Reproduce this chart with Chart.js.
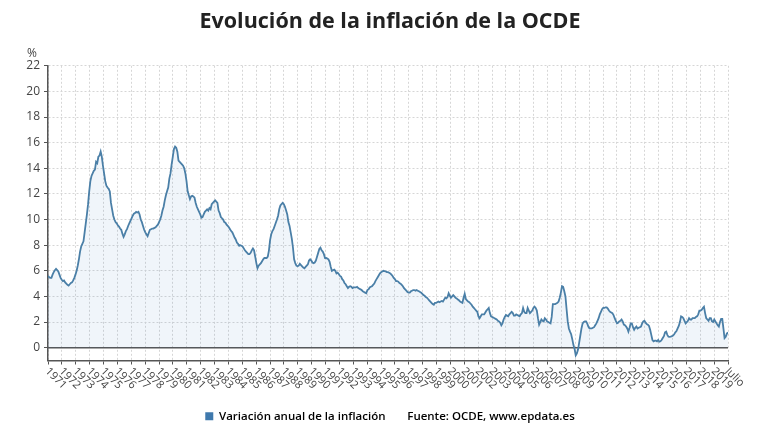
<!DOCTYPE html>
<html><head><meta charset="utf-8">
<script src="https://cdn.jsdelivr.net/npm/chart.js@4.4.1/dist/chart.umd.min.js"></script>
<style>html,body{margin:0;padding:0;background:#fff;}#wrap{width:780px;height:440px;}</style>
</head><body><div id="wrap"><canvas id="c" width="780" height="440"></canvas></div>
<script>
const chartTitle = 'Evolución de la inflación de la OCDE';
const seriesName = 'Variación anual de la inflación';
const sourceText = 'Fuente: OCDE, www.epdata.es';
const unitLabel = '%';
const startYear = 1971;
const tickLabels = ['1971','1972','1973','1974','1975','1976','1977','1978','1979','1980',
  '1981','1982','1983','1984','1985','1986','1987','1988','1989','1990',
  '1991','1992','1993','1994','1995','1996','1997','1998','1999','2000',
  '2001','2002','2003','2004','2005','2006','2007','2008','2009','2010',
  '2011','2012','2013','2014','2015','2016','2017','2018','2019','Julio'];
const yTickValues = [0,2,4,6,8,10,12,14,16,18,20,22];
// Monthly annual inflation (%), Jan 1971 - Jul 2020
const values = [
  5.6,5.5,5.45,5.45,5.7,5.9,6.05,6.15,6.05,5.95,5.7,5.45,          // 1971
  5.3,5.2,5.25,5.1,5.0,4.9,4.85,4.95,5.05,5.1,5.25,5.45,           // 1972
  5.7,6.0,6.4,6.9,7.5,7.9,8.1,8.3,9.0,9.7,10.4,11.2,               // 1973
  12.2,13.0,13.4,13.6,13.8,13.9,14.5,14.4,14.9,15.0,15.3,14.9,     // 1974
  14.2,13.6,13.0,12.65,12.5,12.4,12.2,11.3,10.8,10.3,10.0,9.8,     // 1975
  9.7,9.55,9.45,9.3,9.2,8.9,8.65,8.85,9.1,9.25,9.5,9.7,            // 1976
  9.9,10.1,10.3,10.45,10.5,10.6,10.55,10.6,10.4,10.0,9.8,9.5,      // 1977
  9.2,9.0,8.85,8.7,8.95,9.2,9.25,9.3,9.3,9.35,9.4,9.5,             // 1978
  9.6,9.8,10.0,10.3,10.7,11.0,11.5,11.9,12.2,12.5,13.2,13.6,       // 1979
  14.3,14.9,15.5,15.7,15.6,15.3,14.6,14.5,14.4,14.3,14.2,14.0,     // 1980
  13.6,13.0,12.2,11.9,11.6,11.8,11.85,11.8,11.7,11.3,11.0,10.8,    // 1981
  10.6,10.4,10.15,10.2,10.4,10.6,10.7,10.8,10.7,10.9,10.8,11.2,    // 1982
  11.3,11.4,11.5,11.4,11.3,10.7,10.5,10.2,10.1,10.0,9.8,9.75,      // 1983
  9.6,9.5,9.4,9.25,9.1,9.0,8.8,8.6,8.45,8.2,8.1,7.95,              // 1984
  8.0,7.95,7.9,7.75,7.6,7.5,7.4,7.3,7.3,7.4,7.6,7.75,              // 1985
  7.6,7.1,6.6,6.2,6.4,6.5,6.6,6.75,6.9,7.0,7.0,7.0,                // 1986
  7.1,7.6,8.4,8.85,9.1,9.25,9.5,9.75,10.0,10.3,10.8,11.1,          // 1987
  11.2,11.3,11.2,11.0,10.7,10.4,9.8,9.5,9.0,8.5,7.8,6.9,           // 1988
  6.6,6.4,6.35,6.4,6.55,6.45,6.35,6.25,6.2,6.3,6.4,6.5,            // 1989
  6.8,6.9,6.8,6.65,6.6,6.65,6.8,7.1,7.4,7.7,7.8,7.6,               // 1990
  7.5,7.3,7.0,7.0,6.95,6.9,6.7,6.3,6.0,6.05,6.1,6.0,               // 1991
  5.8,5.85,5.75,5.6,5.55,5.35,5.25,5.05,4.95,4.8,4.65,4.75,        // 1992
  4.8,4.75,4.65,4.7,4.7,4.7,4.75,4.65,4.6,4.55,4.5,4.4,            // 1993
  4.35,4.3,4.25,4.5,4.55,4.7,4.75,4.8,4.9,5.0,5.2,5.35,            // 1994
  5.5,5.65,5.8,5.9,5.95,6.0,5.97,5.95,5.9,5.9,5.85,5.8,            // 1995
  5.7,5.6,5.45,5.35,5.2,5.2,5.15,5.05,5.0,4.9,4.8,4.65,            // 1996
  4.55,4.45,4.35,4.3,4.3,4.4,4.45,4.5,4.5,4.45,4.5,4.45,           // 1997
  4.4,4.35,4.3,4.2,4.1,4.05,3.95,3.9,3.8,3.7,3.6,3.5,              // 1998
  3.4,3.35,3.5,3.5,3.55,3.6,3.55,3.6,3.65,3.6,3.75,3.9,            // 1999
  3.85,3.95,4.25,4.05,3.9,4.0,4.1,4.0,3.9,3.85,3.75,3.7,           // 2000
  3.6,3.55,3.5,3.9,4.2,3.8,3.7,3.6,3.55,3.45,3.35,3.2,             // 2001
  3.1,3.0,2.9,2.8,2.45,2.3,2.45,2.6,2.6,2.6,2.75,2.9,              // 2002
  3.0,3.1,2.7,2.45,2.4,2.35,2.3,2.25,2.2,2.1,2.05,1.95,            // 2003
  1.75,1.9,2.2,2.4,2.55,2.5,2.45,2.6,2.7,2.8,2.7,2.5,              // 2004
  2.5,2.6,2.55,2.5,2.45,2.6,2.7,3.1,2.8,2.7,2.7,3.1,               // 2005
  2.9,2.7,2.8,2.9,3.1,3.2,3.1,2.9,2.3,1.8,2.0,2.2,                 // 2006
  2.1,2.05,2.3,2.2,2.05,2.0,1.95,1.9,2.4,3.4,3.4,3.4,              // 2007
  3.45,3.5,3.6,3.9,4.3,4.8,4.75,4.4,4.0,3.0,2.05,1.5,              // 2008
  1.25,1.05,0.65,0.2,-0.1,-0.6,-0.45,-0.15,0.4,0.95,1.5,1.9,       // 2009
  2.0,2.05,2.05,1.9,1.65,1.5,1.5,1.5,1.55,1.6,1.75,1.9,            // 2010
  2.1,2.3,2.6,2.8,3.0,3.1,3.1,3.15,3.15,3.05,2.9,2.8,              // 2011
  2.75,2.7,2.55,2.3,2.1,1.9,1.95,2.05,2.1,2.2,2.05,1.8,            // 2012
  1.75,1.65,1.5,1.25,1.55,1.9,1.9,1.6,1.4,1.55,1.65,1.5,           // 2013
  1.55,1.6,1.65,1.9,2.05,2.1,1.95,1.85,1.8,1.7,1.4,1.0,            // 2014
  0.6,0.5,0.55,0.55,0.5,0.6,0.47,0.5,0.6,0.75,0.9,1.2,             // 2015
  1.25,1.0,0.86,0.85,0.86,0.9,0.95,1.05,1.2,1.3,1.5,1.7,           // 2016
  2.0,2.45,2.4,2.3,2.1,1.9,2.0,2.1,2.3,2.2,2.2,2.3,                // 2017
  2.3,2.3,2.4,2.45,2.6,2.9,2.9,2.95,3.1,3.2,2.7,2.3,               // 2018
  2.2,2.1,2.3,2.3,2.05,2.0,2.2,2.05,1.9,1.75,1.65,2.0,             // 2019
  2.25,2.25,1.5,0.75,0.85,1.1,1.2                                  // 2020 (Ene-Jul)
];

const months = values.map((_, i) => (startYear + Math.floor(i / 12)) + '-' + String(i % 12 + 1).padStart(2, '0'));
const points = values.map((v, i) => ({ x: i, y: v, month: months[i] }));
const lastIndex = values.length - 1;

const FONT = '"Open Sans", "Liberation Sans", sans-serif';
const lineColor = '#4a7fa7';
const legendColor = '#3f79ad';

const extras = {
  id: 'extras',
  beforeDatasetsDraw(chart) {
    const { ctx, chartArea } = chart;
    const ys = chart.scales.y;
    const y0 = ys.getPixelForValue(0);
    ctx.save();
    ctx.strokeStyle = '#555';
    ctx.lineWidth = 1.5;
    ctx.beginPath();
    ctx.moveTo(chartArea.left, y0);
    ctx.lineTo(chartArea.right, y0);
    ctx.stroke();
    ctx.restore();
  },
  afterDraw(chart) {
    const { ctx, chartArea } = chart;
    const xs = chart.scales.x;
    ctx.save();
    ctx.fillStyle = '#444';
    ctx.font = '11px ' + FONT;
    ctx.textAlign = 'left';
    ctx.textBaseline = 'middle';
    xs.ticks.forEach((t, k) => {
      const px = xs.getPixelForValue(t.value);
      ctx.save();
      ctx.translate(px - 1, chartArea.bottom + 9);
      ctx.rotate(Math.PI / 4);
      ctx.fillText(tickLabels[k], 0, 0);
      ctx.restore();
    });
    ctx.font = '12px ' + FONT;
    ctx.textAlign = 'center';
    ctx.fillStyle = '#444';
    ctx.fillText(unitLabel, chartArea.left - 16, chartArea.top - 12);
    ctx.restore();
  }
};

new Chart(document.getElementById('c').getContext('2d'), {
  type: 'line',
  data: {
    datasets: [{
      label: seriesName,
      data: points,
      borderColor: lineColor,
      backgroundColor: 'rgba(90,140,200,0.09)',
      fill: 'origin',
      borderWidth: 1.8,
      pointRadius: 0,
      tension: 0
    }]
  },
  options: {
    responsive: false,
    animation: false,
    devicePixelRatio: 1,
    layout: { padding: { left: 0, right: 0, top: 0, bottom: 8 } },
    plugins: {
      title: {
        display: true, text: chartTitle, color: '#222',
        font: { family: FONT, size: 21.5, weight: 'bold' },
        padding: { top: 9, bottom: 31 }
      },
      legend: {
        position: 'bottom',
        labels: {
          boxWidth: 8, boxHeight: 8, padding: 8, color: '#333',
          font: { family: FONT, size: 11.5, weight: '600' },
          generateLabels() {
            return [
              { text: seriesName, fillStyle: legendColor, strokeStyle: legendColor, lineWidth: 0, hidden: false, datasetIndex: 0 },
              { text: sourceText, fillStyle: 'rgba(0,0,0,0)', strokeStyle: 'rgba(0,0,0,0)', lineWidth: 0, hidden: false }
            ];
          }
        }
      },
      tooltip: { enabled: false }
    },
    scales: {
      x: {
        type: 'linear', min: 0, max: lastIndex,
        afterBuildTicks(s) { s.ticks = tickLabels.map((t, k) => ({ value: k * lastIndex / (tickLabels.length - 1) })); },
        ticks: { display: false },
        grid: { color: '#d6d6d6', lineWidth: 1, tickLength: 4, tickColor: '#555' },
        border: { display: true, color: '#555', width: 1.5, dash: [2, 2] },
        afterFit(s) { s.height = 42; }
      },
      y: {
        min: -1, max: 22,
        afterBuildTicks(s) { s.ticks = yTickValues.map(v => ({ value: v })); },
        ticks: { color: '#444', padding: 4, font: { family: FONT, size: 12 }, callback: v => String(v) },
        grid: { color: '#d6d6d6', lineWidth: 1, tickLength: 4, tickColor: '#555' },
        border: { display: true, color: '#555', width: 1.5, dash: [2, 2] },
        afterFit(s) { s.width = 48; }
      },
      yRight: {
        position: 'right', min: -1, max: 22,
        ticks: { display: false },
        grid: { display: false, drawTicks: false },
        border: { display: false },
        afterFit(s) { s.width = 52; }
      }
    }
  },
  plugins: [extras]
});
</script>
</body></html>
